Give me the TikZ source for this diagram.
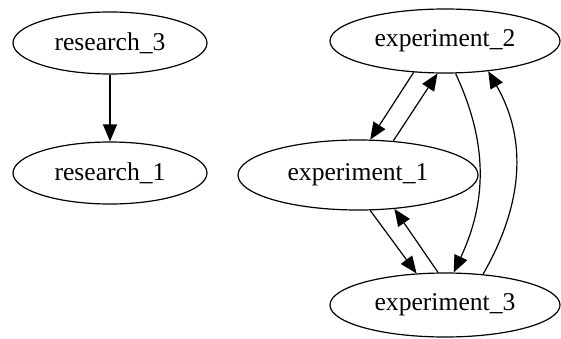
\documentclass[tikz,border=0pt]{standalone}
\usepackage{fontspec}
\setmainfont{Liberation Serif}
\usetikzlibrary{shapes.geometric,arrows.meta}
\begin{document}
\begin{tikzpicture}[x=0.5pt,y=0.5pt,
  gnode/.style={draw,ellipse,inner sep=0pt,line width=0.6pt,font=\fontsize{12.8}{14}\selectfont},
  rnode/.style={gnode,minimum width=97pt,minimum height=31pt},
  enode/.style={gnode,minimum width=115pt,minimum height=32pt},
  edge/.style={line width=0.6pt,-{Triangle[length=8.5pt,width=7pt]}}]
\useasboundingbox (0,0) rectangle (561,338);
\node[rnode] (r3) at (110,295) {research\_3};
\node[rnode] (r1) at (110,165) {research\_1};
\node[enode] (e2) at (445,297) {experiment\_2};
\node[enode,minimum width=120pt,minimum height=35pt] (e1) at (358,163) {experiment\_1};
\node[enode] (e3) at (445,33) {experiment\_3};
\draw[edge] (r3) -- (r1);
\draw[edge] (e2.225.8) -- (e1.71);
\draw[edge] (e1.44.7) -- (e2.257.6);
\draw[edge] (e2.-72.6) to[out=-65,in=65] (e3.75.9);
\draw[edge] (e3.39.3) to[out=60,in=-60] (e2.-35.4);
\draw[edge] (e1.-71) -- (e3.132);
\draw[edge] (e3.102.4) -- (e1.-43.7);
\end{tikzpicture}
\end{document}
